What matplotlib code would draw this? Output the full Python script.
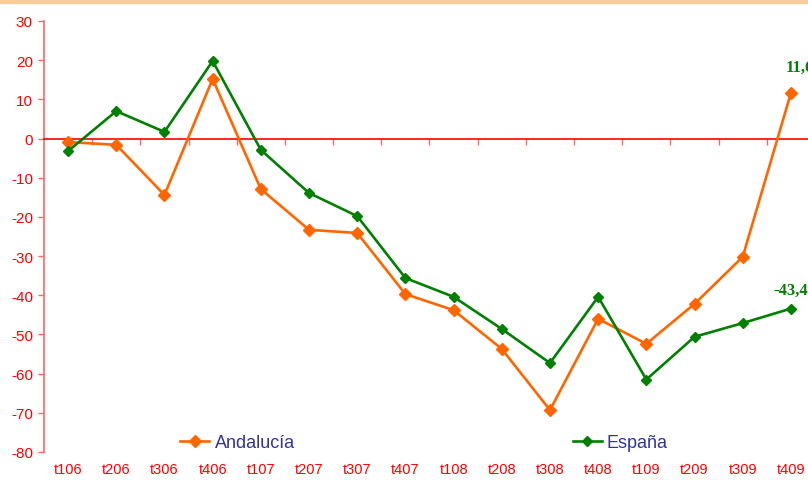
import numpy as np
import matplotlib.pyplot as plt
from matplotlib.patches import Rectangle

plt.rcParams['axes.unicode_minus'] = False

# Trimestres y tasas de las dos series
trimestres = ['t106', 't206', 't306', 't406', 't107', 't207', 't307', 't407',
              't108', 't208', 't308', 't408', 't109', 't209', 't309', 't409']

andalucia = [-0.9, -1.6, -14.4, 15.2, -12.9, -23.3, -24.1, -39.7,
             -43.8, -53.7, -69.3, -46.0, -52.4, -42.2, -30.2, 11.6]

espana = [-3.2, 7.0, 1.7, 19.8, -2.9, -13.9, -19.8, -35.6,
          -40.4, -48.6, -57.3, -40.4, -61.5, -50.6, -47.1, -43.4]

rojo = '#FF0000'
naranja = '#FF6600'
verde = '#008000'

fig = plt.figure(figsize=(8.08, 4.81), dpi=100)
fig.patches.append(Rectangle((0, 1 - 4 / 481), 1, 4 / 481, transform=fig.transFigure,
                             color='#FFCC99', zorder=0))

ax = fig.add_axes([44 / 808, 28 / 481, 771 / 808, 431 / 481])
x = np.arange(len(trimestres))

ax.plot(x, andalucia, color=naranja, lw=1.9, marker='D', ms=6, label='Andalucía',
        clip_on=False, zorder=3)
ax.plot(x, espana, color=verde, lw=1.9, marker='D', ms=5, label='España',
        clip_on=False, zorder=4)

ax.set_xlim(-0.5, len(trimestres) - 0.5)
ax.set_ylim(-80, 30)
ax.set_yticks(np.arange(-80, 31, 10))

# eje horizontal en el cero con marcas entre trimestres
for s in ['top', 'right']:
    ax.spines[s].set_visible(False)
ax.spines['bottom'].set_position(('data', 0))
ax.spines['bottom'].set_color(rojo)
ax.spines['bottom'].set_linewidth(1.2)
ax.spines['left'].set_color('#FF6666')
ax.spines['left'].set_linewidth(1.2)
ax.set_xticks(np.arange(0.5, len(trimestres) - 0.5, 1))
ax.set_xticklabels([])
ax.tick_params(axis='x', length=4, width=1, color='#FF6666', direction='out')
ax.tick_params(axis='y', length=4, width=1, color='#FF6666', labelcolor=rojo,
               labelsize=11, pad=4)
for lab in ax.get_yticklabels():
    lab.set_fontfamily('Liberation Sans')

# etiquetas de los trimestres bajo el grafico
for xi, t in zip(x, trimestres):
    ax.text(xi, -0.04, t, transform=ax.get_xaxis_transform(), ha='center', va='center',
            color=rojo, fontsize=10.5, family='Liberation Sans')

# valores del ultimo trimestre
ax.annotate(f'{andalucia[-1]:.1f}'.replace('.', ','), (x[-1], andalucia[-1]),
            xytext=(-4, 13), textcoords='offset points', ha='left', va='bottom',
            color=verde, fontsize=12, fontweight='bold', family='Liberation Serif',
            annotation_clip=False)
ax.annotate(f'{espana[-1]:.1f}'.replace('.', ','), (x[-1], espana[-1]),
            xytext=(0, 8), textcoords='offset points', ha='center', va='bottom',
            color=verde, fontsize=12, fontweight='bold', family='Liberation Serif',
            annotation_clip=False)

leg = ax.legend(loc='center', bbox_to_anchor=(0.493, 0.021), ncol=2, frameon=False,
                columnspacing=15.4, handlelength=1.6, handletextpad=0.3,
                prop={'family': 'Liberation Sans', 'size': 13})
for txt in leg.get_texts():
    txt.set_color('#333399')

fig.savefig('out.png', dpi=100)
